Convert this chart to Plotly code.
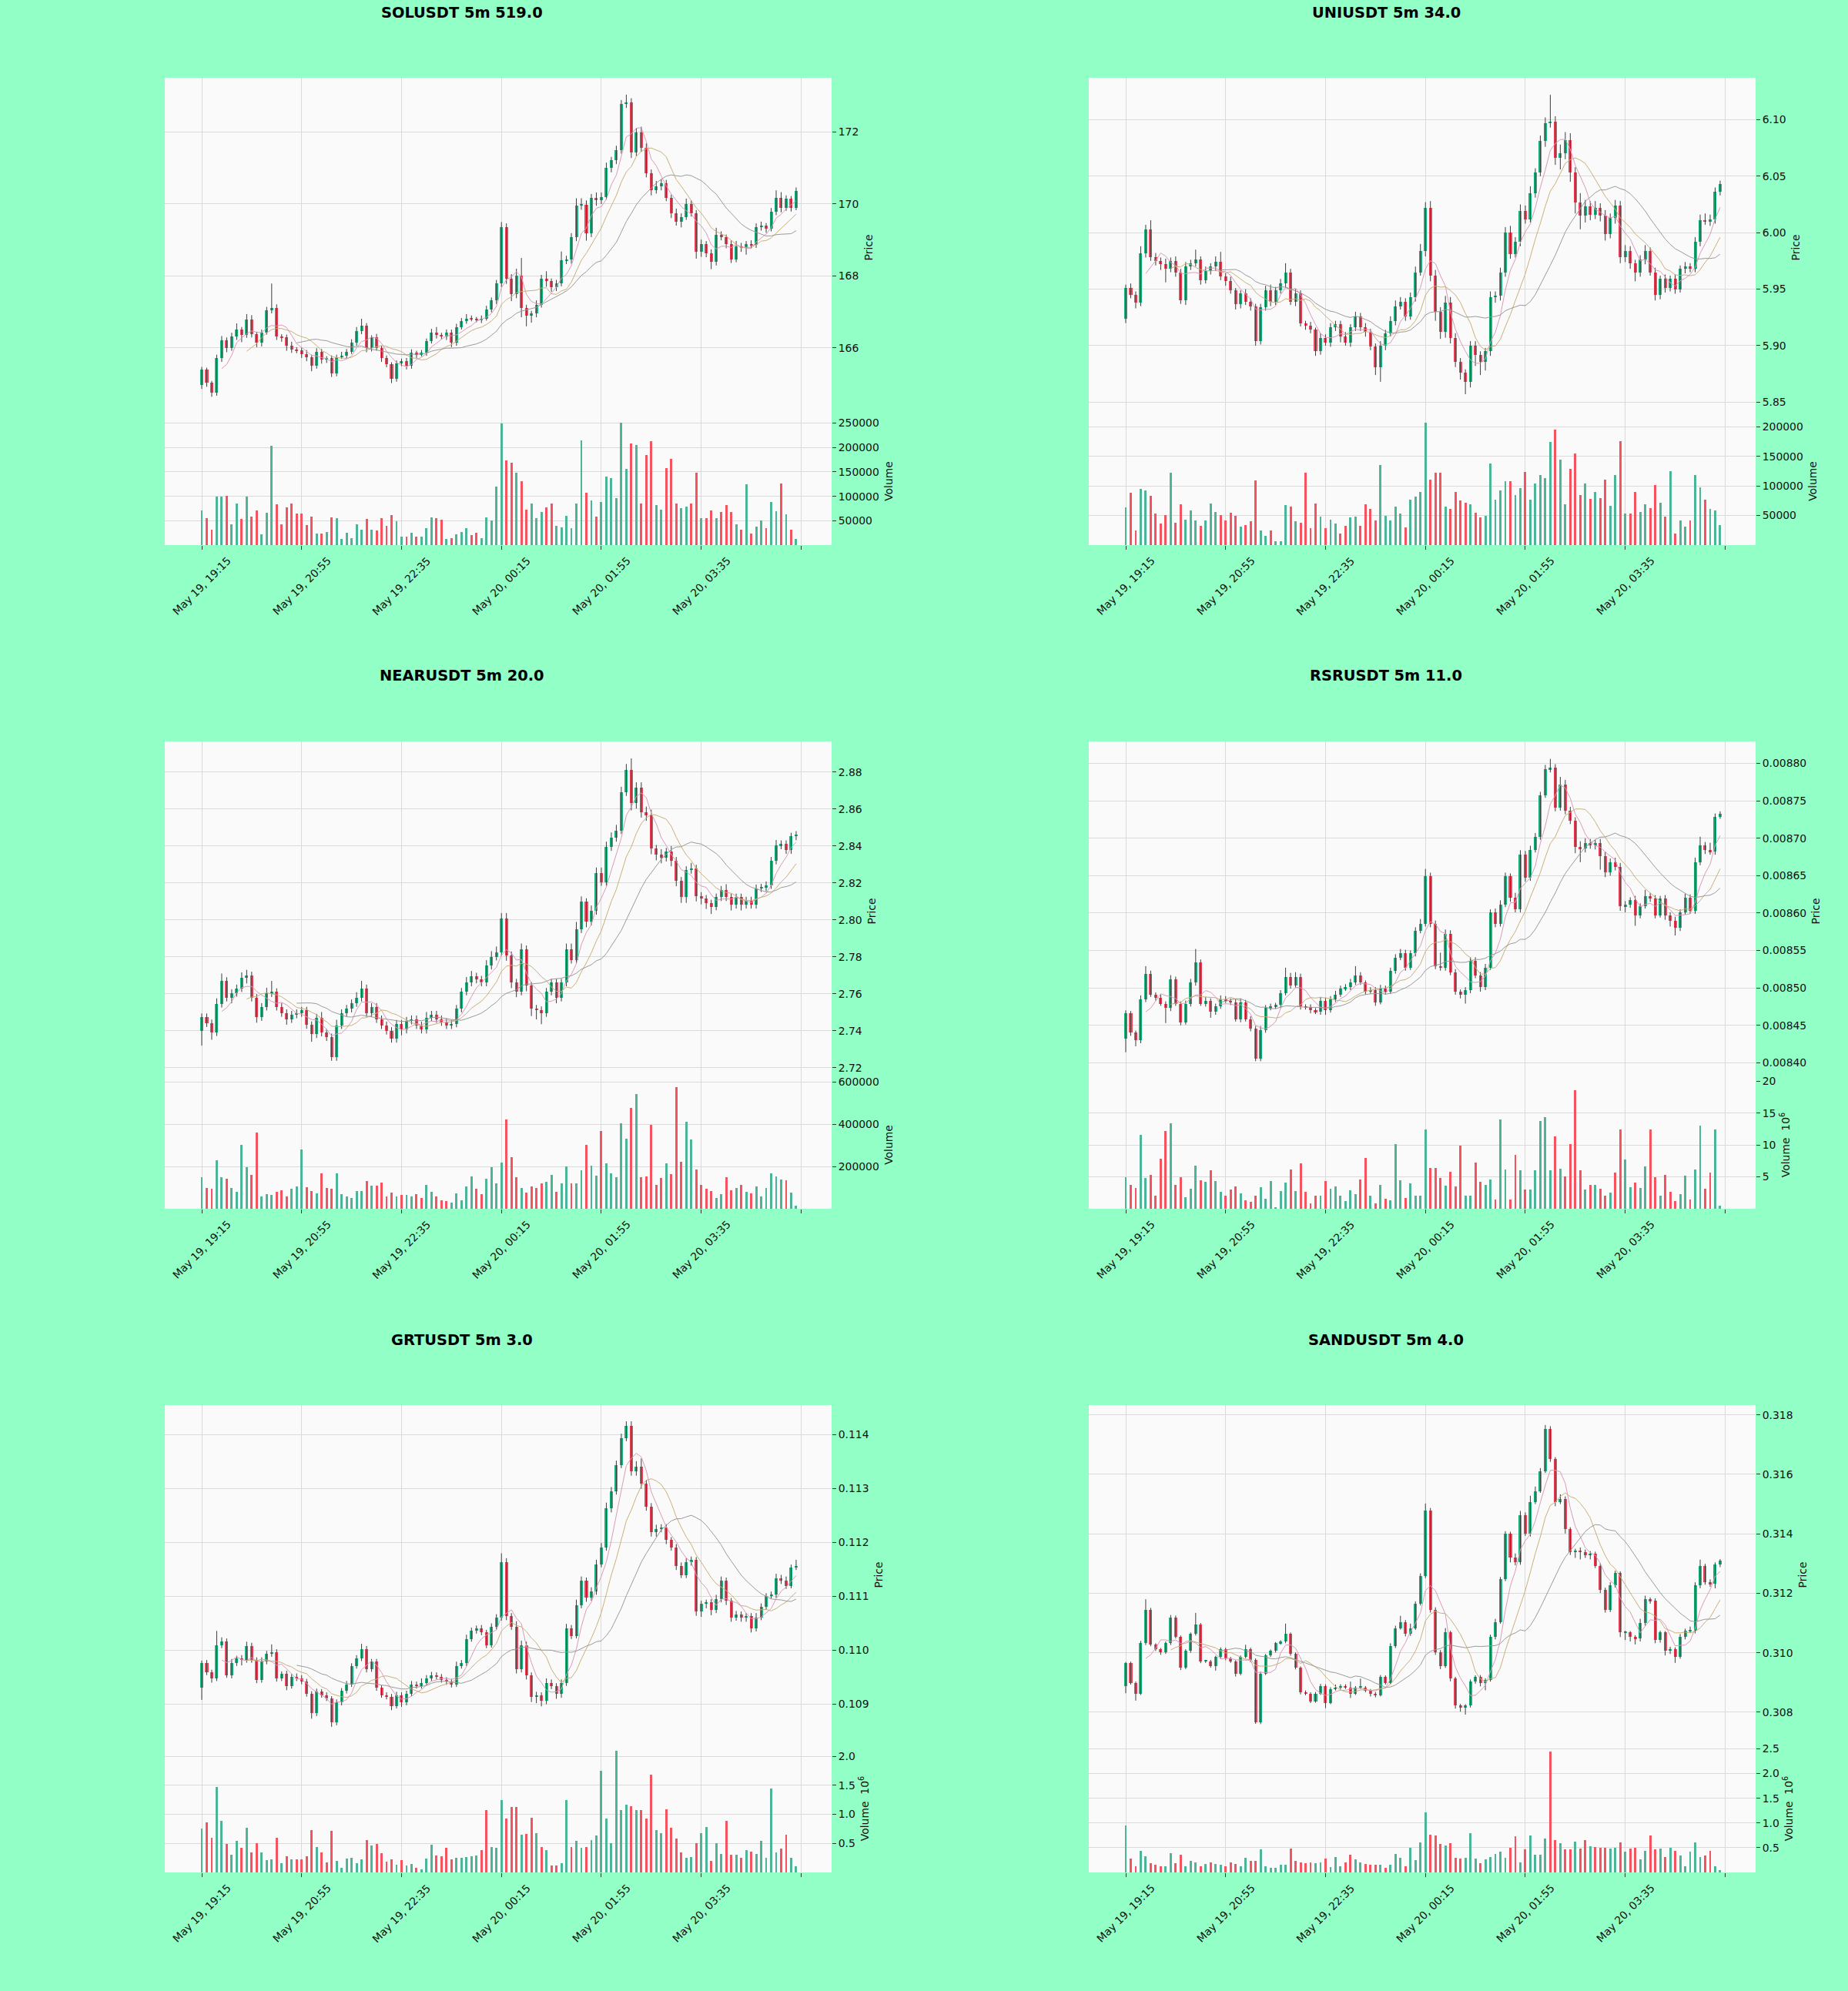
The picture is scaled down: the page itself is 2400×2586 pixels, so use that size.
import numpy as np
import pandas as pd
import plotly.graph_objects as go

W, H = 2400, 2586

# x axis: one candle per 5 minutes, ticks every 20 candles
tick_pos = [0, 20, 40, 60, 80, 100, 120]
tick_labels = ["May 19, 19:15", "May 19, 20:55", "May 19, 22:35",
               "May 20, 00:15", "May 20, 01:55", "May 20, 03:35", ""]

# ---------------- SOLUSDT ----------------
sol_open0 = 164.96
sol_close = [
    165.39, 165.04, 164.75, 165.71, 166.21, 166.00, 166.32, 166.50, 166.36, 166.79,
    166.39, 166.14, 166.43, 167.04, 167.11, 166.32, 166.29, 166.07, 165.96, 165.93,
    165.82, 165.75, 165.50, 165.89, 165.68, 165.71, 165.29, 165.75, 165.79, 165.89,
    166.14, 166.46, 166.61, 166.00, 166.29, 166.00, 165.71, 165.54, 165.14, 165.57,
    165.64, 165.50, 165.86, 165.82, 165.86, 166.18, 166.43, 166.36, 166.32, 166.43,
    166.14, 166.57, 166.75, 166.82, 166.80, 166.77, 166.82, 167.07, 167.32, 167.79,
    169.36, 167.93, 167.50, 168.00, 167.10, 166.90, 166.95, 167.20, 167.93, 167.85,
    167.68, 167.79, 168.43, 168.46, 169.07, 169.96, 169.98, 169.18, 170.18, 170.10,
    170.20, 171.00, 171.21, 171.50, 172.79, 172.82, 171.43, 172.00, 171.57, 170.86,
    170.39, 170.50, 170.57, 170.18, 169.75, 169.50, 169.64, 170.00, 169.75, 168.68,
    168.89, 168.64, 168.39, 169.14, 169.07, 168.89, 168.46, 168.82, 168.79, 168.89,
    168.86, 169.36, 169.39, 169.32, 169.79, 170.18, 169.89, 170.14, 169.89, 170.36]
# wick lengths above / below the body, in cents
sol_wick_up = [
    8, 6, 4, 10, 12, 8, 10, 18, 8, 15,
    12, 6, 8, 10, 68, 10, 6, 8, 10, 6,
    8, 12, 6, 10, 8, 6, 8, 6, 10, 8,
    10, 12, 20, 8, 6, 10, 6, 8, 6, 8,
    6, 8, 10, 6, 8, 8, 10, 15, 6, 8,
    8, 10, 8, 12, 8, 6, 8, 10, 8, 10,
    14, 10, 12, 20, 50, 10, 8, 12, 10, 20,
    8, 10, 25, 10, 12, 20, 18, 12, 10, 14,
    12, 15, 10, 12, 10, 22, 12, 10, 15, 12,
    10, 14, 12, 10, 8, 12, 10, 15, 10, 8,
    12, 8, 10, 20, 10, 8, 10, 15, 10, 8,
    10, 10, 12, 8, 10, 20, 15, 10, 8, 10]
sol_wick_dn = [
    10, 12, 11, 8, 10, 12, 8, 10, 20, 8,
    10, 12, 10, 6, 8, 10, 12, 15, 10, 8,
    10, 12, 15, 8, 12, 10, 10, 8, 6, 8,
    6, 8, 8, 12, 10, 8, 10, 8, 12, 8,
    8, 10, 8, 10, 6, 8, 6, 10, 8, 10,
    12, 8, 6, 8, 6, 6, 8, 6, 8, 10,
    10, 15, 20, 12, 25, 30, 20, 10, 8, 15,
    12, 10, 8, 10, 12, 10, 12, 20, 10, 15,
    10, 8, 12, 10, 10, 12, 15, 10, 12, 12,
    15, 10, 12, 10, 14, 10, 15, 8, 10, 20,
    15, 12, 20, 10, 8, 12, 10, 8, 12, 20,
    10, 8, 10, 12, 8, 10, 12, 8, 10, 6]
sol_volume = [
    71000, 56000, 31000, 99000, 99000, 101000, 43000, 85000, 54000, 99000,
    59000, 71000, 22000, 67000, 204000, 84000, 43000, 77000, 85000, 64000,
    64000, 41000, 58000, 24000, 24000, 27000, 57000, 56000, 13000, 26000,
    14000, 42000, 32000, 54000, 32000, 30000, 55000, 39000, 62000, 49000,
    18000, 17000, 25000, 18000, 18000, 34000, 57000, 55000, 52000, 13000,
    15000, 22000, 27000, 35000, 21000, 25000, 15000, 57000, 51000, 120000,
    250000, 173000, 169000, 148000, 131000, 72000, 86000, 56000, 68000, 78000,
    85000, 39000, 36000, 60000, 35000, 86000, 215000, 107000, 92000, 59000,
    89000, 141000, 138000, 97000, 251000, 157000, 208000, 205000, 85000, 184000,
    213000, 82000, 73000, 158000, 176000, 86000, 76000, 79000, 85000, 148000,
    56000, 56000, 71000, 55000, 68000, 82000, 68000, 43000, 31000, 125000,
    24000, 38000, 50000, 34000, 88000, 69000, 127000, 63000, 32000, 12000]

# ---------------- UNIUSDT ----------------
uni_open0 = 5.924
uni_close = [
    5.951, 5.945, 5.938, 5.982, 6.003, 5.978, 5.975, 5.972, 5.968, 5.975,
    5.965, 5.940, 5.970, 5.973, 5.976, 5.958, 5.966, 5.970, 5.974, 5.961,
    5.957, 5.949, 5.937, 5.946, 5.939, 5.935, 5.904, 5.934, 5.949, 5.939,
    5.949, 5.955, 5.965, 5.939, 5.946, 5.920, 5.918, 5.914, 5.895, 5.907,
    5.903, 5.916, 5.919, 5.908, 5.903, 5.916, 5.926, 5.916, 5.912, 5.899,
    5.881, 5.900, 5.911, 5.922, 5.935, 5.939, 5.926, 5.943, 5.965, 5.984,
    6.022, 5.962, 5.930, 5.912, 5.938, 5.907, 5.886, 5.876, 5.868, 5.900,
    5.892, 5.886, 5.895, 5.943, 5.944, 5.965, 6.000, 5.981, 5.992, 6.019,
    6.012, 6.035, 6.053, 6.081, 6.097, 6.098, 6.066, 6.070, 6.082, 6.053,
    6.027, 6.015, 6.023, 6.016, 6.022, 6.015, 5.999, 6.013, 6.024, 5.978,
    5.984, 5.973, 5.965, 5.976, 5.984, 5.965, 5.945, 5.959, 5.951, 5.959,
    5.950, 5.968, 5.970, 5.968, 5.992, 6.011, 6.010, 6.012, 6.036, 6.043]
# wick lengths in 0.001
uni_wick_up = [
    3, 4, 3, 6, 4, 8, 4, 3, 5, 3,
    4, 3, 4, 3, 9, 3, 4, 3, 5, 9,
    3, 4, 2, 3, 4, 3, 2, 3, 4, 5,
    3, 4, 8, 3, 4, 3, 2, 3, 2, 4,
    3, 4, 3, 3, 4, 3, 4, 3, 4, 3,
    3, 4, 3, 4, 5, 4, 3, 4, 5, 6,
    5, 6, 5, 4, 6, 5, 4, 3, 3, 4,
    4, 3, 3, 5, 4, 4, 5, 6, 4, 6,
    5, 6, 4, 5, 5, 24, 5, 8, 7, 6,
    5, 8, 6, 5, 6, 4, 5, 4, 5, 4,
    5, 4, 3, 4, 5, 3, 4, 3, 4, 3,
    4, 3, 4, 3, 4, 5, 6, 4, 4, 3]
uni_wick_dn = [
    4, 3, 5, 3, 4, 3, 4, 5, 12, 3,
    4, 3, 4, 3, 3, 4, 3, 3, 4, 3,
    4, 3, 5, 4, 3, 4, 4, 3, 3, 4,
    3, 3, 4, 3, 4, 3, 4, 3, 4, 3,
    3, 4, 3, 5, 3, 4, 3, 3, 4, 3,
    7, 13, 4, 3, 4, 3, 4, 3, 4, 3,
    5, 5, 8, 6, 5, 5, 5, 6, 11, 5,
    10, 12, 8, 4, 5, 4, 4, 4, 3, 4,
    4, 3, 4, 3, 5, 4, 6, 10, 5, 8,
    10, 12, 6, 5, 4, 5, 6, 4, 5, 5,
    4, 5, 8, 4, 4, 3, 5, 4, 4, 3,
    4, 3, 4, 3, 3, 4, 3, 4, 4, 3]
uni_volume = [
    64000, 88000, 25000, 95000, 93000, 83000, 54000, 36000, 51000, 122000,
    38000, 69000, 43000, 59000, 41000, 33000, 41000, 70000, 56000, 51000,
    41000, 55000, 49000, 31000, 34000, 40000, 109000, 25000, 15000, 25000,
    6000, 7000, 68000, 65000, 40000, 38000, 122000, 28000, 70000, 48000,
    28000, 43000, 36000, 20000, 33000, 47000, 48000, 33000, 69000, 61000,
    42000, 135000, 49000, 41000, 65000, 54000, 30000, 77000, 82000, 90000,
    207000, 110000, 122000, 122000, 65000, 61000, 90000, 76000, 72000, 69000,
    55000, 47000, 49000, 138000, 77000, 92000, 108000, 108000, 85000, 96000,
    123000, 77000, 104000, 118000, 113000, 175000, 195000, 145000, 69000, 129000,
    155000, 85000, 104000, 78000, 90000, 80000, 110000, 66000, 119000, 176000,
    53000, 53000, 90000, 56000, 69000, 62000, 101000, 72000, 48000, 125000,
    20000, 41000, 31000, 41000, 118000, 97000, 77000, 61000, 59000, 34000]

# ---------------- NEARUSDT ----------------
near_open0 = 2.7400
near_close = [
    2.7474, 2.7441, 2.7392, 2.7546, 2.7670, 2.7579, 2.7605, 2.7630, 2.7686, 2.7700,
    2.7579, 2.7474, 2.7530, 2.7603, 2.7610, 2.7530, 2.7496, 2.7463, 2.7488, 2.7496,
    2.7510, 2.7431, 2.7381, 2.7472, 2.7390, 2.7365, 2.7258, 2.7430, 2.7496, 2.7520,
    2.7550, 2.7579, 2.7630, 2.7496, 2.7530, 2.7463, 2.7430, 2.7400, 2.7356, 2.7439,
    2.7406, 2.7455, 2.7463, 2.7430, 2.7406, 2.7472, 2.7488, 2.7463, 2.7447, 2.7430,
    2.7439, 2.7520, 2.7612, 2.7661, 2.7694, 2.7677, 2.7661, 2.7752, 2.7801, 2.7826,
    2.8007, 2.7809, 2.7661, 2.7612, 2.7842, 2.7644, 2.7520, 2.7512, 2.7496, 2.7612,
    2.7661, 2.7579, 2.7661, 2.7842, 2.7784, 2.7949, 2.8097, 2.7990, 2.8048, 2.8253,
    2.8204, 2.8393, 2.8443, 2.8484, 2.8690, 2.8813, 2.8632, 2.8714, 2.8583, 2.8566,
    2.8385, 2.8352, 2.8336, 2.8369, 2.8320, 2.8212, 2.8122, 2.8270, 2.8278, 2.8130,
    2.8114, 2.8089, 2.8072, 2.8122, 2.8163, 2.8122, 2.8081, 2.8122, 2.8081, 2.8105,
    2.8081, 2.8171, 2.8175, 2.8188, 2.8320, 2.8402, 2.8410, 2.8377, 2.8451, 2.8460]
# wick lengths in 0.001
near_wick_up = [
    2, 2, 2, 3, 4, 2, 2, 2, 3, 3,
    2, 2, 2, 3, 6, 2, 2, 2, 2, 2,
    2, 2, 2, 2, 3, 2, 2, 3, 2, 2,
    2, 3, 4, 2, 2, 2, 2, 2, 2, 2,
    2, 2, 2, 2, 2, 3, 2, 2, 2, 2,
    2, 2, 2, 3, 3, 2, 2, 3, 3, 3,
    3, 3, 2, 2, 3, 2, 2, 2, 2, 2,
    2, 2, 2, 3, 3, 4, 3, 2, 3, 3,
    3, 3, 3, 3, 3, 3, 6, 3, 3, 3,
    3, 2, 3, 2, 3, 2, 2, 2, 3, 2,
    2, 2, 2, 2, 2, 3, 2, 2, 2, 2,
    2, 2, 2, 2, 2, 3, 2, 2, 2, 2]
near_wick_dn = [
    8, 2, 4, 2, 2, 2, 3, 2, 2, 3,
    2, 3, 2, 2, 2, 2, 2, 3, 2, 2,
    2, 2, 4, 2, 2, 2, 2, 2, 2, 2,
    2, 2, 2, 2, 2, 2, 2, 2, 2, 2,
    3, 2, 2, 2, 2, 2, 2, 2, 2, 2,
    2, 2, 2, 2, 2, 2, 2, 2, 2, 2,
    2, 3, 3, 3, 2, 3, 4, 5, 6, 2,
    2, 3, 2, 2, 2, 2, 2, 3, 2, 2,
    2, 2, 2, 2, 2, 2, 4, 3, 3, 3,
    3, 3, 3, 2, 3, 3, 3, 3, 2, 3,
    3, 3, 4, 2, 2, 2, 3, 2, 3, 2,
    2, 2, 2, 2, 2, 2, 2, 2, 2, 2]
near_volume = [
    150000, 100000, 96000, 231000, 150000, 143000, 100000, 79000, 303000, 196000,
    160000, 360000, 60000, 69000, 64000, 79000, 86000, 60000, 93000, 104000,
    279000, 103000, 83000, 74000, 167000, 100000, 96000, 167000, 69000, 57000,
    50000, 83000, 83000, 131000, 111000, 111000, 124000, 57000, 76000, 57000,
    64000, 64000, 57000, 69000, 50000, 114000, 79000, 57000, 40000, 36000,
    29000, 74000, 39000, 107000, 154000, 93000, 69000, 143000, 196000, 119000,
    219000, 424000, 243000, 150000, 100000, 76000, 104000, 100000, 119000, 129000,
    161000, 79000, 121000, 200000, 119000, 119000, 181000, 303000, 204000, 157000,
    367000, 214000, 169000, 150000, 403000, 331000, 479000, 543000, 150000, 154000,
    396000, 114000, 147000, 214000, 164000, 576000, 221000, 411000, 329000, 186000,
    114000, 93000, 83000, 50000, 69000, 150000, 89000, 97000, 114000, 79000,
    74000, 104000, 57000, 100000, 167000, 154000, 140000, 136000, 76000, 14000]

# ---------------- RSRUSDT ----------------
rsr_open0 = 0.008432
rsr_close = [
    0.008466, 0.008440, 0.008430, 0.008485, 0.008519, 0.008491, 0.008487, 0.008479, 0.008473, 0.008511,
    0.008479, 0.008454, 0.008479, 0.008507, 0.008534, 0.008479, 0.008483, 0.008468, 0.008475, 0.008485,
    0.008483, 0.008481, 0.008458, 0.008481, 0.008458, 0.008446, 0.008405, 0.008444, 0.008473, 0.008475,
    0.008477, 0.008493, 0.008515, 0.008503, 0.008515, 0.008475, 0.008474, 0.008470, 0.008468, 0.008483,
    0.008470, 0.008485, 0.008491, 0.008499, 0.008501, 0.008507, 0.008517, 0.008507, 0.008495, 0.008497,
    0.008481, 0.008499, 0.008495, 0.008523, 0.008540, 0.008546, 0.008527, 0.008546, 0.008576, 0.008586,
    0.008649, 0.008586, 0.008529, 0.008527, 0.008572, 0.008521, 0.008495, 0.008491, 0.008497, 0.008536,
    0.008517, 0.008501, 0.008527, 0.008601, 0.008586, 0.008611, 0.008649, 0.008621, 0.008605, 0.008678,
    0.008647, 0.008684, 0.008702, 0.008757, 0.008792, 0.008794, 0.008741, 0.008772, 0.008737, 0.008723,
    0.008688, 0.008686, 0.008694, 0.008690, 0.008694, 0.008676, 0.008654, 0.008668, 0.008662, 0.008609,
    0.008611, 0.008617, 0.008597, 0.008609, 0.008623, 0.008619, 0.008597, 0.008619, 0.008597, 0.008590,
    0.008580, 0.008601, 0.008621, 0.008603, 0.008668, 0.008690, 0.008684, 0.008682, 0.008729, 0.008733]
# wick lengths in 0.000001
rsr_wick_up = [
    4, 3, 3, 5, 10, 4, 3, 4, 3, 6,
    4, 3, 4, 5, 18, 4, 5, 3, 4, 5,
    4, 3, 4, 5, 3, 4, 3, 5, 4, 4,
    3, 4, 12, 5, 6, 4, 3, 4, 3, 5,
    4, 4, 5, 4, 4, 5, 12, 4, 3, 4,
    4, 5, 4, 4, 5, 6, 5, 4, 5, 6,
    10, 5, 4, 18, 6, 5, 4, 3, 4, 5,
    5, 4, 5, 4, 5, 6, 5, 4, 6, 6,
    5, 6, 5, 5, 6, 12, 5, 10, 6, 5,
    5, 8, 6, 5, 4, 5, 6, 5, 6, 5,
    5, 4, 6, 4, 8, 4, 5, 4, 5, 4,
    5, 4, 5, 4, 6, 12, 5, 10, 4, 3]
rsr_wick_dn = [
    18, 4, 8, 4, 4, 3, 4, 3, 20, 4,
    3, 4, 3, 4, 4, 3, 4, 8, 4, 3,
    3, 4, 3, 4, 3, 4, 3, 3, 4, 3,
    3, 4, 3, 4, 3, 4, 3, 4, 3, 4,
    6, 3, 4, 3, 3, 4, 3, 3, 4, 3,
    5, 3, 4, 3, 4, 3, 4, 3, 4, 3,
    4, 5, 4, 4, 4, 4, 4, 5, 12, 4,
    4, 6, 4, 3, 5, 4, 3, 6, 4, 4,
    5, 4, 3, 4, 3, 4, 5, 4, 5, 4,
    8, 18, 5, 4, 5, 18, 6, 4, 5, 6,
    8, 4, 14, 4, 3, 4, 4, 3, 6, 8,
    10, 4, 3, 4, 4, 4, 5, 4, 4, 3]
# volume in millions
rsr_volume = [
    5.0, 3.8, 3.3, 11.6, 4.8, 5.3, 2.1, 7.8, 12.2, 13.4,
    3.8, 4.9, 1.8, 3.2, 6.8, 4.5, 4.2, 6.1, 4.4, 2.6,
    2.1, 3.0, 3.5, 2.4, 1.3, 1.1, 2.1, 3.4, 1.6, 4.4,
    0.2, 2.8, 4.1, 6.2, 2.8, 7.1, 2.6, 0.9, 2.0, 2.0,
    4.4, 3.1, 3.5, 2.0, 1.2, 2.9, 2.3, 4.6, 8.0, 2.0,
    0.9, 3.8, 1.6, 1.3, 10.2, 4.5, 1.7, 4.0, 2.1, 2.1,
    12.5, 6.4, 6.4, 4.8, 3.6, 5.8, 3.5, 9.9, 2.0, 2.1,
    7.2, 4.2, 3.8, 4.6, 1.5, 14.0, 6.2, 1.5, 8.4, 6.0,
    3.0, 3.0, 6.1, 13.8, 14.4, 6.1, 11.3, 6.3, 5.1, 10.2,
    18.6, 6.0, 3.0, 3.7, 3.7, 3.1, 2.0, 2.5, 5.7, 12.4,
    7.7, 3.4, 4.1, 3.3, 6.6, 12.4, 5.0, 2.1, 5.3, 2.6,
    1.2, 2.3, 5.2, 1.4, 6.2, 13.1, 3.1, 5.7, 12.4, 0.5]

# ---------------- GRTUSDT ----------------
grt_open0 = 0.10931
grt_close = [
    0.10976, 0.10959, 0.10948, 0.11010, 0.11016, 0.10954, 0.10976, 0.10985, 0.10982, 0.11008,
    0.10982, 0.10945, 0.10979, 0.10993, 0.10996, 0.10948, 0.10956, 0.10934, 0.10951, 0.10948,
    0.10942, 0.10920, 0.10883, 0.10923, 0.10917, 0.10911, 0.10866, 0.10903, 0.10925, 0.10937,
    0.10971, 0.10985, 0.11002, 0.10965, 0.10979, 0.10931, 0.10917, 0.10914, 0.10897, 0.10917,
    0.10903, 0.10920, 0.10937, 0.10934, 0.10940, 0.10948, 0.10954, 0.10951, 0.10945, 0.10942,
    0.10937, 0.10971, 0.10976, 0.11021, 0.11036, 0.11041, 0.11033, 0.11010, 0.11044, 0.11061,
    0.11163, 0.11064, 0.11044, 0.10965, 0.11010, 0.10954, 0.10914, 0.10917, 0.10906, 0.10940,
    0.10934, 0.10920, 0.10940, 0.11041, 0.11027, 0.11084, 0.11129, 0.11098, 0.11109, 0.11160,
    0.11191, 0.11264, 0.11295, 0.11344, 0.11394, 0.11417, 0.11332, 0.11341, 0.11310, 0.11267,
    0.11219, 0.11225, 0.11228, 0.11205, 0.11191, 0.11157, 0.11140, 0.11163, 0.11168, 0.11072,
    0.11086, 0.11089, 0.11075, 0.11095, 0.11129, 0.11092, 0.11061, 0.11067, 0.11061, 0.11064,
    0.11041, 0.11061, 0.11081, 0.11101, 0.11103, 0.11134, 0.11129, 0.11120, 0.11154, 0.11157]
# wick lengths in 0.00001
grt_wick_up = [
    5, 6, 5, 26, 8, 6, 8, 5, 6, 8,
    6, 5, 8, 6, 15, 6, 5, 6, 5, 6,
    6, 5, 4, 6, 5, 5, 4, 6, 5, 6,
    5, 6, 10, 6, 5, 5, 4, 5, 5, 6,
    5, 5, 6, 5, 8, 6, 6, 5, 5, 5,
    5, 8, 6, 8, 6, 5, 6, 5, 6, 6,
    17, 8, 5, 10, 8, 6, 5, 6, 5, 8,
    6, 5, 6, 8, 6, 10, 8, 6, 8, 8,
    8, 10, 8, 8, 8, 8, 8, 10, 15, 6,
    6, 8, 6, 6, 5, 6, 6, 8, 6, 5,
    6, 5, 6, 8, 8, 6, 5, 6, 5, 5,
    5, 8, 6, 5, 6, 8, 6, 8, 5, 11]
grt_wick_dn = [
    23, 5, 8, 5, 6, 5, 6, 5, 10, 5,
    5, 6, 5, 5, 5, 6, 5, 8, 5, 5,
    5, 6, 10, 5, 5, 5, 8, 5, 5, 5,
    5, 5, 5, 6, 5, 6, 5, 5, 8, 5,
    8, 5, 5, 5, 5, 5, 5, 5, 5, 6,
    6, 5, 5, 5, 5, 5, 5, 6, 5, 5,
    6, 8, 6, 8, 6, 8, 10, 12, 10, 6,
    6, 10, 8, 6, 6, 5, 6, 8, 6, 6,
    6, 6, 8, 6, 6, 6, 8, 8, 10, 8,
    8, 8, 6, 8, 6, 8, 6, 6, 6, 8,
    10, 8, 10, 6, 6, 8, 8, 6, 8, 8,
    8, 6, 5, 6, 5, 6, 6, 6, 5, 5]
# volume in millions
grt_volume = [
    0.76, 0.86, 0.60, 1.47, 0.89, 0.49, 0.31, 0.54, 0.43, 0.77,
    0.34, 0.51, 0.34, 0.21, 0.22, 0.59, 0.16, 0.28, 0.22, 0.22,
    0.22, 0.28, 0.73, 0.44, 0.34, 0.17, 0.72, 0.20, 0.08, 0.24,
    0.25, 0.16, 0.22, 0.56, 0.46, 0.49, 0.33, 0.19, 0.22, 0.13,
    0.21, 0.12, 0.15, 0.08, 0.05, 0.24, 0.48, 0.29, 0.28, 0.42,
    0.22, 0.25, 0.25, 0.26, 0.28, 0.29, 0.39, 1.07, 0.44, 0.43,
    1.25, 0.93, 1.12, 1.12, 0.65, 0.66, 0.94, 0.67, 0.44, 0.39,
    0.12, 0.12, 0.16, 1.24, 0.44, 0.55, 0.43, 0.44, 0.56, 0.64,
    1.75, 0.93, 0.51, 2.09, 1.07, 1.16, 1.14, 1.07, 1.07, 0.93,
    1.68, 0.73, 0.68, 1.09, 0.77, 0.58, 0.34, 0.25, 0.27, 0.50,
    0.67, 0.78, 0.20, 0.50, 0.32, 0.89, 0.31, 0.30, 0.25, 0.39,
    0.36, 0.32, 0.55, 0.25, 1.44, 0.34, 0.41, 0.65, 0.25, 0.10]

# ---------------- SANDUSDT ----------------
sand_open0 = 0.30889
sand_close = [
    0.30965, 0.30899, 0.30863, 0.31032, 0.31145, 0.31027, 0.31012, 0.31001, 0.31032, 0.31119,
    0.31053, 0.30950, 0.31006, 0.31063, 0.31094, 0.30971, 0.30971, 0.30955, 0.30986, 0.31012,
    0.30981, 0.30971, 0.30930, 0.30986, 0.31012, 0.30976, 0.30766, 0.30930, 0.30991, 0.31006,
    0.31032, 0.31037, 0.31063, 0.30996, 0.30950, 0.30868, 0.30863, 0.30837, 0.30863, 0.30889,
    0.30832, 0.30878, 0.30883, 0.30889, 0.30883, 0.30863, 0.30883, 0.30883, 0.30873, 0.30863,
    0.30858, 0.30919, 0.30899, 0.31022, 0.31083, 0.31104, 0.31063, 0.31083, 0.31165, 0.31257,
    0.31477, 0.31145, 0.31001, 0.30955, 0.31068, 0.30914, 0.30822, 0.30817, 0.30822, 0.30904,
    0.30919, 0.30899, 0.30909, 0.31053, 0.31104, 0.31247, 0.31401, 0.31319, 0.31304, 0.31462,
    0.31401, 0.31508, 0.31544, 0.31611, 0.31754, 0.31652, 0.31508, 0.31518, 0.31416, 0.31339,
    0.31344, 0.31339, 0.31329, 0.31334, 0.31293, 0.31211, 0.31145, 0.31227, 0.31268, 0.31068,
    0.31068, 0.31053, 0.31048, 0.31099, 0.31180, 0.31175, 0.31042, 0.31068, 0.31006, 0.31012,
    0.30986, 0.31053, 0.31073, 0.31073, 0.31227, 0.31293, 0.31237, 0.31232, 0.31298, 0.31309]
# wick lengths in 0.00001
sand_wick_up = [
    4, 5, 4, 8, 35, 6, 5, 4, 6, 8,
    6, 5, 6, 5, 40, 6, 5, 5, 4, 6,
    5, 5, 4, 5, 15, 5, 5, 6, 5, 5,
    4, 5, 35, 5, 5, 4, 5, 4, 5, 6,
    5, 6, 10, 5, 5, 20, 5, 30, 5, 5,
    5, 6, 5, 10, 8, 20, 6, 15, 8, 10,
    25, 10, 8, 8, 15, 6, 5, 6, 5, 6,
    5, 6, 5, 8, 10, 8, 8, 6, 15, 15,
    10, 20, 15, 10, 12, 8, 6, 15, 8, 6,
    6, 10, 8, 8, 6, 8, 8, 10, 8, 6,
    6, 5, 6, 15, 12, 6, 8, 6, 5, 8,
    6, 10, 8, 15, 10, 20, 6, 10, 6, 6]
sand_wick_dn = [
    25, 6, 24, 5, 6, 5, 6, 8, 5, 6,
    5, 8, 5, 6, 5, 6, 5, 5, 15, 5,
    6, 5, 10, 6, 5, 8, 5, 6, 5, 5,
    5, 5, 5, 6, 6, 8, 6, 6, 5, 5,
    18, 5, 5, 6, 5, 15, 5, 5, 6, 10,
    8, 5, 6, 5, 6, 5, 8, 6, 6, 6,
    6, 10, 8, 10, 6, 10, 10, 15, 25, 6,
    8, 12, 25, 6, 8, 6, 6, 15, 10, 8,
    8, 10, 8, 6, 6, 10, 15, 8, 15, 10,
    20, 25, 10, 15, 8, 10, 10, 8, 8, 15,
    25, 15, 20, 10, 8, 10, 10, 8, 15, 10,
    20, 6, 8, 6, 8, 10, 8, 10, 15, 10]
# volume in millions
sand_volume = [
    0.95, 0.28, 0.12, 0.44, 0.33, 0.18, 0.16, 0.12, 0.12, 0.39,
    0.18, 0.36, 0.12, 0.23, 0.21, 0.13, 0.17, 0.20, 0.17, 0.16,
    0.13, 0.21, 0.17, 0.13, 0.30, 0.23, 0.23, 0.47, 0.13, 0.10,
    0.09, 0.16, 0.16, 0.48, 0.23, 0.21, 0.19, 0.20, 0.18, 0.21,
    0.28, 0.11, 0.31, 0.13, 0.21, 0.36, 0.27, 0.21, 0.17, 0.15,
    0.16, 0.15, 0.10, 0.16, 0.38, 0.30, 0.12, 0.50, 0.25, 0.61,
    1.22, 0.77, 0.74, 0.58, 0.55, 0.59, 0.30, 0.28, 0.30, 0.79,
    0.28, 0.19, 0.27, 0.31, 0.38, 0.42, 0.30, 0.50, 0.73, 0.21,
    0.47, 0.74, 0.36, 0.36, 0.68, 2.45, 0.65, 0.59, 0.47, 0.47,
    0.62, 0.48, 0.66, 0.53, 0.52, 0.50, 0.50, 0.48, 0.50, 0.60,
    0.42, 0.48, 0.50, 0.27, 0.44, 0.74, 0.47, 0.48, 0.31, 0.50,
    0.44, 0.34, 0.13, 0.42, 0.60, 0.31, 0.34, 0.44, 0.13, 0.04]

panels = [
    dict(title="SOLUSDT 5m 519.0", open0=sol_open0, close=sol_close, up=sol_wick_up,
         dn=sol_wick_dn, unit=0.01, vol=sol_volume, prange=[164.07, 173.51], pdtick=2,
         pfmt="d", vrange=[0, 262000], vstep=50000, vfmt="d", vtitle="Volume"),
    dict(title="UNIUSDT 5m 34.0", open0=uni_open0, close=uni_close, up=uni_wick_up,
         dn=uni_wick_dn, unit=0.001, vol=uni_volume, prange=[5.8366, 6.1371], pdtick=0.05,
         pfmt=".2f", vrange=[0, 216000], vstep=50000, vfmt="d", vtitle="Volume"),
    dict(title="NEARUSDT 5m 20.0", open0=near_open0, close=near_close, up=near_wick_up,
         dn=near_wick_dn, unit=0.001, vol=near_volume, prange=[2.7129, 2.8965], pdtick=0.02,
         pfmt=".2f", vrange=[0, 605000], vstep=200000, vfmt="d", vtitle="Volume"),
    dict(title="RSRUSDT 5m 11.0", open0=rsr_open0, close=rsr_close, up=rsr_wick_up,
         dn=rsr_wick_dn, unit=0.000001, vol=rsr_volume, prange=[0.0083756, 0.0088294],
         pdtick=0.00005, pfmt=".5f", vrange=[0, 20.05], vstep=5, vfmt="d",
         vtitle="Volume  10<sup>6</sup>"),
    dict(title="GRTUSDT 5m 3.0", open0=grt_open0, close=grt_close, up=grt_wick_up,
         dn=grt_wick_dn, unit=0.00001, vol=grt_volume, prange=[0.10825, 0.11455],
         pdtick=0.001, pfmt=".3f", vrange=[0, 2.2], vstep=0.5, vfmt=".1f",
         vtitle="Volume  10<sup>6</sup>"),
    dict(title="SANDUSDT 5m 4.0", open0=sand_open0, close=sand_close, up=sand_wick_up,
         dn=sand_wick_dn, unit=0.00001, vol=sand_volume, prange=[0.30691, 0.31833],
         pdtick=0.002, pfmt=".3f", vrange=[0, 2.585], vstep=0.5, vfmt=".1f",
         vtitle="Volume  10<sup>6</sup>"),
]

UP, DOWN = "#15b67c", "#f4465b"
VOL_UP, VOL_DOWN = "#4cb597", "#f5535f"
WICK = "#3d3d3d"
MA_STYLE = [(5, "#d99bbb"), (10, "#c9b07a"), (20, "#9a9a9a")]
GRID = "#dadada"
FONT = "DejaVu Sans"

col_left = [214, 1414]
plot_w = 866
row_top = [101, 963, 1825]
price_h, vol_h = 441, 166
title_y = [16, 878, 1740]
xrange_ = [-7.4, 126.1]


def px_x(a, b):
    return [a / W, b / W]


def px_y(top, bottom):
    return [1 - bottom / H, 1 - top / H]


fig = go.Figure()
layout = {}
annotations = []

for k, p in enumerate(panels):
    r, c = divmod(k, 2)
    na, nb = 2 * k + 1, 2 * k + 2
    xa = "x" if na == 1 else "x%d" % na
    ya = "y" if na == 1 else "y%d" % na
    xb, yb = "x%d" % nb, "y%d" % nb

    close = np.array(p["close"], dtype=float)
    opn = np.concatenate([[p["open0"]], close[:-1]])
    high = np.maximum(opn, close) + np.array(p["up"]) * p["unit"]
    low = np.minimum(opn, close) - np.array(p["dn"]) * p["unit"]
    idx = np.arange(len(close))
    rising = close >= opn

    # wicks
    wx, wy = [], []
    for i in idx:
        wx += [i, i, None]
        wy += [low[i], high[i], None]
    fig.add_trace(go.Scatter(x=wx, y=wy, mode="lines", line=dict(color=WICK, width=1),
                             xaxis=xa, yaxis=ya, showlegend=False, hoverinfo="skip"))

    # candle bodies
    prng = p["prange"][1] - p["prange"][0]
    body = np.maximum(np.abs(close - opn), prng * 0.002)
    fig.add_trace(go.Bar(x=idx, y=body, base=np.minimum(opn, close), width=0.62,
                         marker=dict(color=[UP if u else DOWN for u in rising], line_width=0),
                         xaxis=xa, yaxis=ya, showlegend=False))

    # moving averages
    s = pd.Series(close)
    for n, col in MA_STYLE:
        ma = s.rolling(n).mean()
        fig.add_trace(go.Scatter(x=idx, y=ma, mode="lines", line=dict(color=col, width=1),
                                 xaxis=xa, yaxis=ya, showlegend=False, hoverinfo="skip"))

    # volume
    fig.add_trace(go.Bar(x=idx, y=p["vol"], width=0.45,
                         marker=dict(color=[VOL_UP if u else VOL_DOWN for u in rising], line_width=0),
                         xaxis=xb, yaxis=yb, showlegend=False))

    left = col_left[c]
    top = row_top[r]
    vol_bottom = top + price_h + vol_h
    xdom = px_x(left, left + plot_w)
    common_x = dict(domain=xdom, range=xrange_, tickvals=tick_pos, showgrid=True,
                    gridcolor=GRID, gridwidth=1.2, zeroline=False, showline=False,
                    automargin=False, showticklabels=False)
    layout["xaxis" + ("" if na == 1 else str(na))] = dict(common_x, anchor=ya, ticks="")
    layout["xaxis%d" % nb] = dict(common_x, anchor=yb, ticks="outside", ticklen=5,
                                  tickcolor="#333")

    # rotated date labels, centred under their tick (matplotlib style)
    for tp, tl in zip(tick_pos, tick_labels):
        if not tl:
            continue
        annotations.append(dict(text=tl, x=tp, xref=xb, y=1 - (vol_bottom + 9) / H,
                                yref="paper", textangle=-45, xanchor="center",
                                yanchor="top", showarrow=False,
                                font=dict(size=13.9, color="#111")))

    pt = np.arange(np.ceil(p["prange"][0] / p["pdtick"]) * p["pdtick"],
                   p["prange"][1], p["pdtick"])
    layout["yaxis" + ("" if na == 1 else str(na))] = dict(
        domain=px_y(top, top + price_h), anchor=xa, side="right", range=p["prange"],
        tickvals=pt, tickformat=p["pfmt"], ticks="outside", ticklen=5, tickcolor="#333",
        showgrid=True, gridcolor=GRID, gridwidth=1.2, zeroline=False, automargin=False,
        tickfont=dict(size=13.9, color="#111"),
        title=dict(text="Price", font=dict(size=13.9, color="#111"), standoff=8))
    vt = np.arange(p["vstep"], p["vrange"][1] + 1e-9, p["vstep"])
    layout["yaxis%d" % nb] = dict(
        domain=px_y(top + price_h, vol_bottom), anchor=xb, side="right",
        range=p["vrange"], tickvals=vt, tickformat=p["vfmt"], ticks="outside", ticklen=5,
        tickcolor="#333", showgrid=True, gridcolor=GRID, gridwidth=1.2, zeroline=False,
        automargin=False, tickfont=dict(size=13.9, color="#111"),
        title=dict(text=p["vtitle"], font=dict(size=13.9, color="#111"), standoff=8))

    annotations.append(dict(text="<b>%s</b>" % p["title"], x=(600 + 1200 * c) / W,
                            y=1 - title_y[r] / H, xref="paper", yref="paper",
                            xanchor="center", yanchor="middle", showarrow=False,
                            font=dict(size=19.4, color="#000")))

fig.update_layout(
    width=W, height=H, margin=dict(l=0, r=0, t=0, b=0, autoexpand=False),
    paper_bgcolor="#92ffc6", plot_bgcolor="#fafafa",
    font=dict(family=FONT, size=13.9, color="#111"),
    barmode="overlay", bargap=0, annotations=annotations, **layout)

fig.write_html("out.html", config={"displayModeBar": False},
               post_script="document.body.style.margin='0px';")
